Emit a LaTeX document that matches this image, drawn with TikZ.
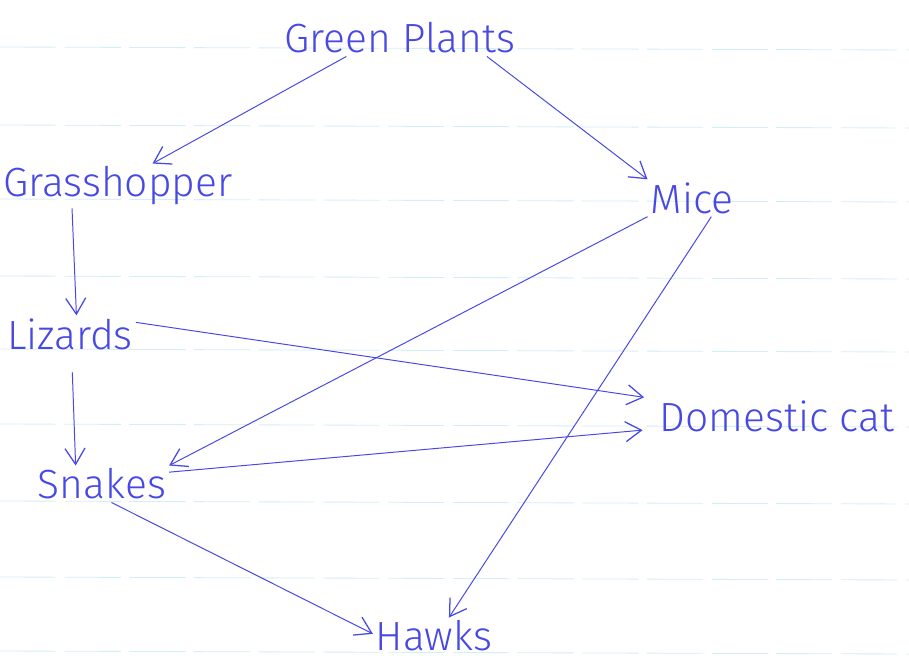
\documentclass[tikz,border=0pt]{standalone}
\usepackage{fontspec}
\setmainfont{Fira Sans Light}
\usepackage{xcolor}
\usetikzlibrary{arrows.meta}

\definecolor{ink}{RGB}{72,72,228}
\definecolor{ruling}{RGB}{210,238,246}

\begin{document}
\begin{tikzpicture}[x=0.025cm, y=-0.025cm, >={Straight Barb[length=4mm,width=5mm,line width=0.9pt]},
    every node/.style={font=\fontsize{29}{32}\selectfont, text=ink, inner sep=2pt},
    food/.style={->, ink, line width=0.7pt}]
        \useasboundingbox (0,0) rectangle (909,662);
        % paper ruling
        \foreach \y in {47,125,199,276,349,424,501,577,651} {
            \draw[ruling, line width=0.6pt, dash pattern=on 40pt off 6pt] (0,\y) -- (909,\y+3);
        }

        % organisms
        \node (plants)  at (400,38)  {Green Plants};
        \node (grass)   at (118,186) {Grasshopper};
        \node (mice)    at (692,198) {Mice};
        \node (lizards) at (70,334)  {Lizards};
        \node[inner xsep=12pt] (cat) at (777,416) {Domestic cat};
        \node (snakes)  at (102,484) {Snakes};
        \node (hawks)   at (434,636) {Hawks};

        % who eats whom
        \draw[food] (plants.199) -- (grass.33);
        \draw[food] (plants.-12) -- (mice.north west);
        \draw[food] (grass.-154) -- (lizards.71);
        \draw[food, shorten <=14pt] (lizards.-85) -- (snakes.145);
        \draw[food] (lizards.10) -- (cat.172);
        \draw[food] (mice.south west) -- (snakes.north east);
        \draw[food] (snakes.10) -- (cat.186);
        \draw[food] (mice.-44) -- (hawks.51);
        \draw[food] (snakes.-63) -- (hawks.178);
    \end{tikzpicture}
\end{document}
